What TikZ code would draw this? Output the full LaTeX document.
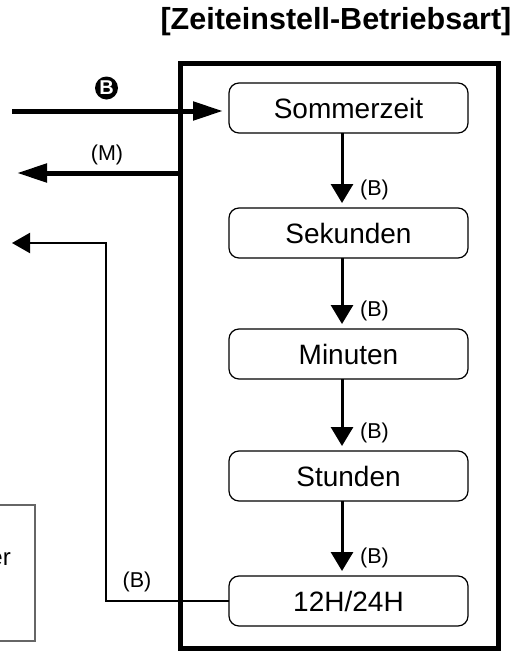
\documentclass[tikz,border=0pt]{standalone}
\usepackage{fontspec}
\setmainfont{Liberation Sans}
\usetikzlibrary{arrows.meta}
\begin{document}
\begin{tikzpicture}[x=1pt,y=-1pt,
  state/.style={draw, line width=1.2pt, rounded corners=10pt, minimum width=239pt, minimum height=50pt, inner sep=0pt, outer sep=0pt, font=\fontsize{28}{32}\selectfont},
  lbl/.style={font=\fontsize{21.5}{24}\selectfont, inner sep=0pt},
  varrow/.style={line width=3pt, -{Triangle[length=19pt,width=22pt]}},
  thickarr/.style={line width=5pt, -{Triangle[length=30pt,width=18pt]}},
  thinarr/.style={line width=2pt, -{Triangle[length=18pt,width=20pt]}}]
\useasboundingbox (0,0) rectangle (519,651);
\node[font=\bfseries\fontsize{30.5}{34}\selectfont, inner sep=0pt] (title) at (336,22) {[Zeiteinstell-Betriebsart]};
\node[draw, line width=5pt, minimum width=318pt, minimum height=585pt, inner sep=0pt, outer sep=0pt] (frame) at (339,355.5) {};
\node[state] (s1) at (348.5,108) {Sommerzeit};
\node[state] (s2) at (348.5,233) {Sekunden};
\node[state] (s3) at (348.5,354) {Minuten};
\node[state] (s4) at (348.5,476) {Stunden};
\node[state] (s5) at (348.5,601) {12H/24H};
\foreach \a/\b in {s1/s2,s2/s3,s3/s4,s4/s5}{
  \draw[varrow] ([xshift=-6.5pt]\a.south) -- ([xshift=-6.5pt,yshift=5pt]\b.north);
  \node[lbl, anchor=west] (l\b) at ([xshift=11.5pt,yshift=18pt]\b.north) {(B)};
}
% incoming B arrow
\coordinate (bin) at (12,111);
\draw[thickarr, shorten >=6pt] (bin) -- (bin -| s1.west);
\coordinate (bc) at (106.5,88);
\fill[black] (bc) circle[radius=11.5pt];
\node[inner sep=0pt, text=white, font=\bfseries\fontsize{20}{20}\selectfont] (bcirc) at (bc) {B};
% (M) arrow out
\coordinate (mout) at (17,173);
\draw[thickarr] (mout -| frame.west) -- (mout);
\node[lbl] (lm) at (107,155) {(M)};
% feedback
\coordinate (fbc) at (106,243);
\coordinate (fb) at (12,243);
\draw[thinarr] (s5.west) -| (fbc) -- (fb);
\node[lbl] (lfb) at (137,582) {(B)};
% partial box at lower left
\draw[black!60, line width=1.2pt] (-5,505) -| (35,641) -- (-5,641);
\node[font=\fontsize{24}{26}\selectfont, anchor=base east, inner sep=0pt] (er) at (11,565) {er};
\end{tikzpicture}
\end{document}
